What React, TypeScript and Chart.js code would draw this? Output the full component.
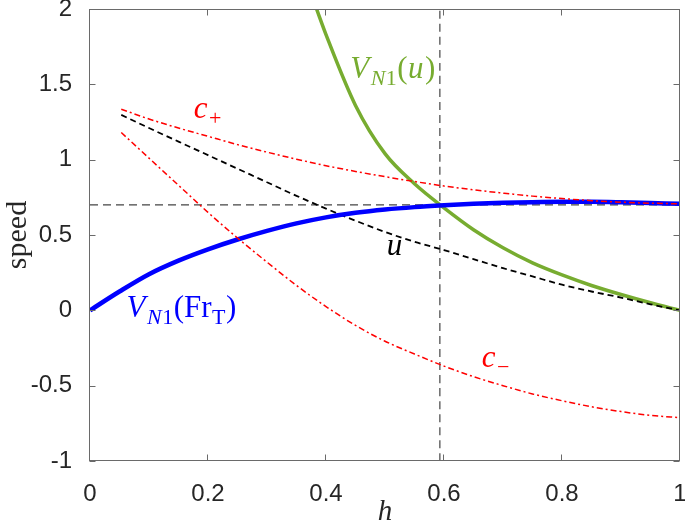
import React, { useEffect, useRef } from "react";
import { Chart, registerables } from "chart.js";

Chart.register(...registerables);

// ---- data ----
const H_FR = [0, 0.05, 0.1, 0.15, 0.2, 0.25, 0.3, 0.35, 0.4, 0.45, 0.5, 0.55, 0.6, 0.65, 0.7, 0.75, 0.8, 0.85, 0.9, 0.95, 1.0];
const V_FR = [0, 0.125, 0.24, 0.33, 0.405, 0.47, 0.527, 0.577, 0.617, 0.647, 0.669, 0.685, 0.697, 0.707, 0.714, 0.718, 0.72, 0.72, 0.717, 0.712, 0.707];

const H_C = [0.053, 0.1, 0.15, 0.2, 0.25, 0.3, 0.35, 0.4, 0.45, 0.5, 0.55, 0.6, 0.65, 0.7, 0.75, 0.8, 0.85, 0.9, 0.95, 1.0];
const C_PLUS = [1.335, 1.27, 1.21, 1.155, 1.1, 1.05, 1.003, 0.96, 0.922, 0.887, 0.855, 0.825, 0.8, 0.778, 0.758, 0.742, 0.728, 0.718, 0.711, 0.707];
const C_MINUS = [1.18, 1.01, 0.83, 0.65, 0.48, 0.32, 0.165, 0.025, -0.1, -0.205, -0.29, -0.37, -0.44, -0.5, -0.555, -0.6, -0.64, -0.672, -0.697, -0.712];
const U_VAL = [1.297, 1.21, 1.12, 1.03, 0.94, 0.85, 0.76, 0.675, 0.595, 0.52, 0.455, 0.4, 0.34, 0.28, 0.225, 0.17, 0.125, 0.085, 0.04, 0.0];

const H_VU = [0.384, 0.4, 0.45, 0.5, 0.55, 0.6, 0.65, 0.7, 0.75, 0.8, 0.85, 0.9, 0.95, 1.0];
const V_U = [2.0, 1.83, 1.36, 1.04, 0.84, 0.68, 0.535, 0.415, 0.315, 0.235, 0.165, 0.105, 0.05, 0.0];

const H_CRIT = 0.593;
const V_CRIT = 0.7;

const X_TICKS = [0, 0.2, 0.4, 0.6, 0.8, 1];
const Y_TICKS = [-1, -0.5, 0, 0.5, 1, 1.5, 2];

const SERIF = '"Liberation Serif", "DejaVu Serif", serif';
const SANS = '"Liberation Sans", Arial, Helvetica, sans-serif';

type Part = { t: string; italic?: boolean; sub?: boolean };
type Label = { x: number; y: number; color: string; parts: Part[] };

const LABELS: Label[] = [
  { x: 0.176, y: 1.277, color: "#ff0000", parts: [{ t: "c", italic: true }, { t: "+", sub: true }] },
  { x: 0.441, y: 1.542, color: "#77ac30", parts: [{ t: "V", italic: true }, { t: "N", italic: true, sub: true }, { t: "1", sub: true }, { t: "(" }, { t: "u", italic: true }, { t: ")" }] },
  { x: 0.503, y: 0.368, color: "#000000", parts: [{ t: "u", italic: true }] },
  { x: 0.062, y: -0.044, color: "#0000ff", parts: [{ t: "V", italic: true }, { t: "N", italic: true, sub: true }, { t: "1", sub: true }, { t: "(Fr" }, { t: "T", sub: true }, { t: ")" }] },
  { x: 0.664, y: -0.376, color: "#ff0000", parts: [{ t: "c", italic: true }, { t: "\u2212", sub: true }] },
];

const pts = (xs: number[], ys: number[]) => xs.map((x, i) => ({ x, y: ys[i] }));
const fmt = (v: number) => String(Math.round(v * 10) / 10);

function drawMath(ctx: CanvasRenderingContext2D, x: number, y: number, parts: Part[], color: string, size: number) {
  const subSize = Math.round(size * 0.72);
  let cx = x;
  ctx.fillStyle = color;
  ctx.textBaseline = "alphabetic";
  ctx.textAlign = "left";
  for (const p of parts) {
    const fs = p.sub ? subSize : size;
    ctx.font = `${p.italic ? "italic " : ""}${fs}px ${SERIF}`;
    ctx.fillText(p.t, cx, y + (p.sub ? size * 0.22 : 0));
    cx += ctx.measureText(p.t).width + (p.italic && !p.sub ? 1.5 : 0.5);
  }
}

const framePlugin = {
  id: "frame",
  afterDatasetsDraw(chart: any) {
    const { ctx, chartArea: a, scales } = chart;
    const xs = scales.x;
    const ys = scales.y;
    ctx.save();
    ctx.strokeStyle = "#6a6a6a";
    ctx.lineWidth = 1;
    ctx.setLineDash([]);
    const L = Math.round(a.left) - 0.5;
    const R = Math.round(a.right) - 0.5;
    const T = Math.round(a.top) + 0.5;
    const B = Math.round(a.bottom) - 0.5;
    ctx.strokeRect(L, T, R - L, B - T);
    const tl = 6;
    ctx.beginPath();
    for (const v of X_TICKS) {
      const px = Math.round(xs.getPixelForValue(v)) - 0.5;
      ctx.moveTo(px, B);
      ctx.lineTo(px, B - tl);
      ctx.moveTo(px, T);
      ctx.lineTo(px, T + tl);
    }
    for (const v of Y_TICKS) {
      const py = Math.round(ys.getPixelForValue(v)) + 0.5;
      ctx.moveTo(L, py);
      ctx.lineTo(L + tl, py);
      ctx.moveTo(R, py);
      ctx.lineTo(R - tl, py);
    }
    ctx.stroke();
    for (const lb of LABELS) {
      drawMath(ctx, xs.getPixelForValue(lb.x), ys.getPixelForValue(lb.y), lb.parts, lb.color, 31);
    }
    ctx.restore();
  },
};

const zeroPad = (s: any) => {
  s.paddingLeft = 0;
  s.paddingRight = 0;
  s.paddingTop = 0;
  s.paddingBottom = 0;
};

export default function App() {
  const ref = useRef<HTMLCanvasElement | null>(null);
  useEffect(() => {
    if (!ref.current) return;
    const chart = new Chart(ref.current, {
      type: "scatter",
      data: {
        datasets: [
          {
            data: pts(H_FR, V_FR),
            borderColor: "#0000ff",
            borderWidth: 4.5,
            order: 1,
          },
          {
            data: pts(H_C, C_PLUS),
            borderColor: "#ff0000",
            borderWidth: 1.5,
            borderDash: [6, 3, 2, 3],
            order: 0,
          },
          {
            data: pts(H_C, C_MINUS),
            borderColor: "#ff0000",
            borderWidth: 1.5,
            borderDash: [6, 3, 2, 3],
            order: 0,
          },
          {
            data: pts(H_C, U_VAL),
            borderColor: "#000000",
            borderWidth: 1.8,
            borderDash: [6, 4],
            order: 2,
          },
          {
            data: pts(H_VU, V_U),
            borderColor: "#77ac30",
            borderWidth: 3.5,
            order: 3,
          },
          {
            data: [{ x: 0, y: V_CRIT }, { x: 1, y: V_CRIT }],
            borderColor: "#444444",
            borderWidth: 1.2,
            borderDash: [8, 5],
            order: 4,
          },
          {
            data: [{ x: H_CRIT, y: -1 }, { x: H_CRIT, y: 2 }],
            borderColor: "#444444",
            borderWidth: 1.2,
            borderDash: [8, 5],
            order: 4,
          },
        ].map((d) => ({ ...d, showLine: true, pointRadius: 0, pointHoverRadius: 0, cubicInterpolationMode: "monotone" as const, fill: false })),
      },
      options: {
        animation: false,
        responsive: false,
        events: [],
        layout: { padding: { top: 9, right: 5, left: 0, bottom: 0 } },
        plugins: { legend: { display: false }, tooltip: { enabled: false } },
        scales: {
          x: {
            type: "linear",
            min: 0,
            max: 1,
            afterFit: (s: any) => {
              s.height = 69;
              zeroPad(s);
            },
            afterBuildTicks: (s: any) => {
              s.ticks = X_TICKS.map((v) => ({ value: v }));
            },
            grid: { display: false },
            border: { display: false },
            ticks: {
              autoSkip: false,
              maxRotation: 0,
              padding: 11,
              color: "#262626",
              font: { family: SANS, size: 24 },
              callback: (v: any) => fmt(Number(v)),
            },
            title: {
              display: true,
              text: "h",
              color: "#262626",
              font: { family: SERIF, size: 29, style: "italic" },
              padding: { top: 0, bottom: 0 },
            },
          },
          y: {
            type: "linear",
            min: -1,
            max: 2,
            afterFit: (s: any) => {
              s.width = 90;
              zeroPad(s);
            },
            afterBuildTicks: (s: any) => {
              s.ticks = Y_TICKS.map((v) => ({ value: v }));
            },
            grid: { display: false },
            border: { display: false },
            ticks: {
              autoSkip: false,
              padding: 10,
              color: "#262626",
              font: { family: SANS, size: 24 },
              callback: (v: any) => fmt(Number(v)),
            },
            title: {
              display: true,
              text: "speed",
              color: "#262626",
              font: { family: SERIF, size: 30 },
              padding: { top: 0, bottom: 0 },
            },
          },
        },
      },
      plugins: [framePlugin],
    });
    return () => chart.destroy();
  }, []);
  return (
    <div style={{ position: "absolute", left: 0, top: 0, width: 685, height: 530, background: "#fff" }}>
      <canvas ref={ref} width={685} height={530} style={{ display: "block", width: 685, height: 530 }} />
    </div>
  );
}
